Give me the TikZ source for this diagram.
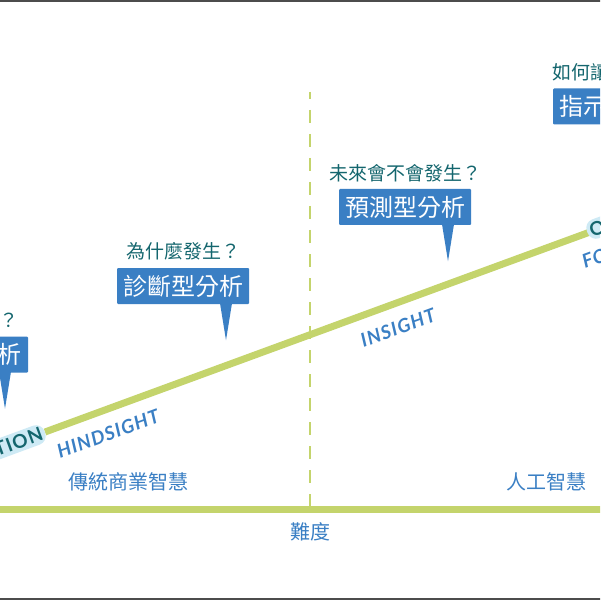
\documentclass[tikz,border=0pt]{standalone}
\usepackage{fontspec}
\newfontfamily\cjk{Noto Sans CJK TC}
\newfontfamily\lat[LetterSpace=6]{Lato}
\usetikzlibrary{positioning}
\definecolor{barblue}{RGB}{58,127,196}
\definecolor{qteal}{RGB}{20,102,110}
\definecolor{linegreen}{RGB}{196,212,108}
\definecolor{bubble}{RGB}{206,234,245}
\begin{document}
\begin{tikzpicture}[x=1pt, y=-1pt,
    kind/.style={fill=barblue, text=white, font=\cjk\fontsize{24}{24}\selectfont, minimum width=132pt, minimum height=36pt, inner sep=0pt, rounded corners=1pt},
    ask/.style={text=qteal, font=\cjk\fontsize{19}{19}\selectfont, inner sep=0pt},
    sight/.style={text=barblue, font=\lat\bfseries\itshape\fontsize{19}{19}\selectfont, rotate=20.2, inner sep=0pt},
    tag/.style={fill=bubble, text=qteal, font=\lat\bfseries\fontsize{19}{19}\selectfont, rotate=20.2, rounded corners=9pt, inner xsep=3pt, inner ysep=3pt},
    zone/.style={text=barblue, font=\cjk\fontsize{20}{20}\selectfont, inner sep=0pt},
    trend/.style={draw=linegreen, line width=7pt},
    divider/.style={draw=linegreen, line width=2.5pt, dash pattern=on 13pt off 11pt, dash phase=6pt}]
    \useasboundingbox (0,0) rectangle (600,601);
    \clip (0,0) rectangle (600,601);
    \fill[white] (0,0) rectangle (600,601);
    % frame lines
    \draw[gray!60!black, line width=2pt] (-5,1) -- (605,1);
    \draw[gray!60!black, line width=2pt] (-5,599) -- (605,599);
    % axis and divider
    \coordinate (axl) at (-5,509);
    \coordinate (axr) at (605,509);
    \coordinate (divtop) at (310,92);
    \coordinate (divbot) at (310,506);
    \draw[divider] (divtop) -- (divbot);
    \draw[trend] (axl) -- (axr);
    % trend line
    \coordinate (start) at (45,432);
    \coordinate (end) at (590,232);
    \draw[trend] (start) -- (end);
    \node[tag, anchor=east] (info) at (start) {INFORMATION};
    \node[tag, anchor=west] (optim) at ([xshift=-3pt]end) {OPTIMIZATION};
    \node[sight] (hind) at (108,434) {HINDSIGHT};
    \node[sight] (ins) at (398,328) {INSIGHT};
    \node[sight] (fore) at (633,244) {FORESIGHT};
    % callouts
    \node[kind] (describe) at (-38,354.5) {描述型分析};
    \node[kind] (diagnose) at (183,286) {診斷型分析};
    \node[kind] (predict) at (405,207) {預測型分析};
    \node[kind] (prescribe) at (619,106.5) {指示型分析};
    \node[ask, above=7pt of describe] (q1) {發生了什麼？};
    \node[ask, above=7pt of diagnose] (q2) {為什麼發生？};
    \node[ask, above=7pt of predict] (q3) {未來會不會發生？};
    \node[ask, above=7pt of prescribe] (q4) {如何讓它發生？};
    \fill[barblue] ([xshift=37pt,yshift=1pt]describe.south) -- ([xshift=49pt,yshift=1pt]describe.south) -- ([xshift=43pt,yshift=-36pt]describe.south) -- cycle;
    \fill[barblue] ([xshift=37pt,yshift=1pt]diagnose.south) -- ([xshift=49pt,yshift=1pt]diagnose.south) -- ([xshift=43pt,yshift=-36pt]diagnose.south) -- cycle;
    \fill[barblue] ([xshift=37pt,yshift=1pt]predict.south) -- ([xshift=49pt,yshift=1pt]predict.south) -- ([xshift=43pt,yshift=-36pt]predict.south) -- cycle;
    \fill[barblue] ([xshift=37pt,yshift=1pt]prescribe.south) -- ([xshift=49pt,yshift=1pt]prescribe.south) -- ([xshift=43pt,yshift=-36pt]prescribe.south) -- cycle;
    % zones
    \node[zone] (bi) at (128,482) {傳統商業智慧};
    \node[zone] (ai) at (546,482) {人工智慧};
    \node[zone] (diff) at (310,532) {難度};
\end{tikzpicture}
\end{document}
